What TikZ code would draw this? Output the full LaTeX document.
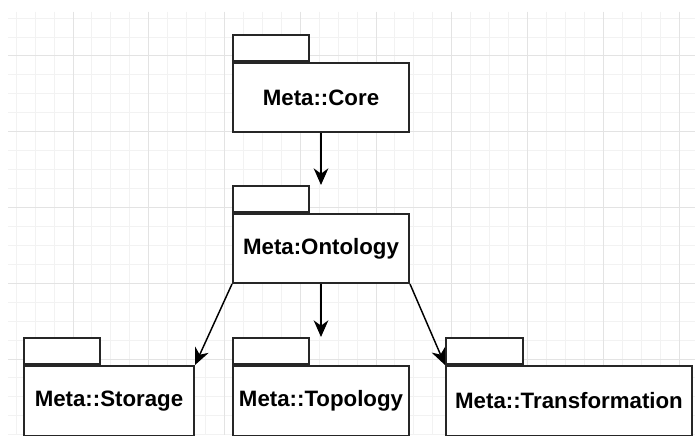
\documentclass[tikz,border=0pt]{standalone}
\usepackage{fontspec}
\setmainfont{Liberation Sans}
\usetikzlibrary{arrows.meta}
\begin{document}
\begin{tikzpicture}[x=0.75pt,y=-0.75pt,
  minorline/.style={draw=black!5,line width=0.75pt},
  majorline/.style={draw=black!11,line width=0.75pt},
  pkg/.style={draw=black!85,line width=1.5pt,fill=white,inner sep=0pt,
    font=\fontsize{16.7pt}{19pt}\selectfont\bfseries},
  pkgtab/.style={draw=black!85,line width=1.5pt,fill=white,inner sep=0pt,
    minimum height=26*0.75pt},
  dep/.style={draw=black,line width=1.1pt,-{Stealth[length=12.5pt,width=11pt,inset=4pt]}}]
\fill[white] (0,0) rectangle (695,435);
\useasboundingbox (0,0) rectangle (695,435);
% grid
\foreach \i in {-3,...,32} {\draw[minorline] ({73+18.9375*\i},12) -- ({73+18.9375*\i},435);}
\foreach \j in {-2,...,20} {\draw[minorline] (8,{56+18.9375*\j}) -- (695,{56+18.9375*\j});}
\foreach \i in {0,...,8} {\draw[majorline] ({73+75.75*\i},12) -- ({73+75.75*\i},435);}
\foreach \j in {0,...,4} {\draw[majorline] (8,{56+75.75*\j}) -- (695,{56+75.75*\j});}
% packages
\node[pkg,minimum width=176*0.75pt,minimum height=69*0.75pt] (core) at (321,97.5) {Meta::Core};
\node[pkgtab,minimum width=76*0.75pt,anchor=south west] (coretab) at (core.north west) {};
\node[pkg,minimum width=176*0.75pt,minimum height=69*0.75pt] (onto) at (321,248.5) {Meta:Ontology};
\node[pkgtab,minimum width=76*0.75pt,anchor=south west] (ontotab) at (onto.north west) {};
\node[pkg,minimum width=170*0.75pt,minimum height=70*0.75pt] (stor) at (109,401) {Meta::Storage};
\node[pkgtab,minimum width=76*0.75pt,anchor=south west] (stortab) at (stor.north west) {};
\node[pkg,minimum width=176*0.75pt,minimum height=70*0.75pt] (topo) at (321,401) {Meta::Topology};
\node[pkgtab,minimum width=76*0.75pt,anchor=south west] (topotab) at (topo.north west) {};
\node[pkg,minimum width=246*0.75pt,minimum height=70*0.75pt] (trans) at (569,401) {Meta::Transformation};
\node[pkgtab,minimum width=77*0.75pt,anchor=south west] (transtab) at (trans.north west) {};
% dependencies
\draw[dep] (core.south) -- (core.south |- ontotab.north);
\draw[dep] (onto.south west) -- (stor.north east);
\draw[dep] (onto.south) -- (onto.south |- topotab.north);
\draw[dep] (onto.south east) -- (trans.north west);
\end{tikzpicture}
\end{document}
